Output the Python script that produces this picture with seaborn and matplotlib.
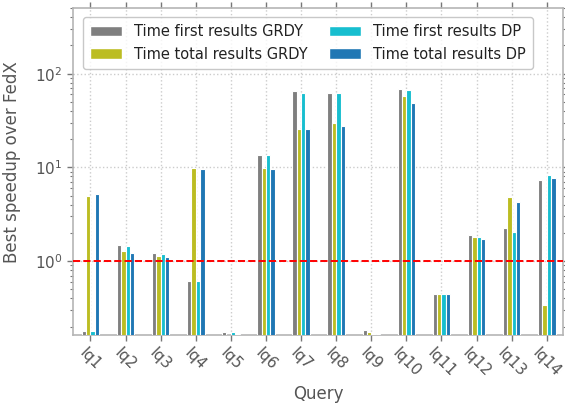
import matplotlib
matplotlib.use("Agg")
import matplotlib.pyplot as plt
import seaborn as sns
import pandas as pd
from matplotlib.patches import Patch
from matplotlib.ticker import LogLocator, NullFormatter

queries = [f"lq{i}" for i in range(1, 15)]
series = ["Time first results GRDY", "Time total results GRDY",
          "Time first results DP", "Time total results DP"]
first_grdy = [0.179, 1.47, 1.21, 0.62, 0.175, 13.5, 64.7, 62.7, 0.184, 69.2, 0.445, 1.88, 2.25, 7.32]
total_grdy = [5.0, 1.28, 1.13, 9.75, 0.15, 9.75, 25.9, 29.5, 0.175, 57.3, 0.445, 1.79, 4.78, 0.339]
first_dp = [0.179, 1.45, 1.18, 0.62, 0.175, 13.5, 62.7, 62.7, 0.168, 66.3, 0.45, 1.80, 2.06, 8.28]
total_dp = [5.15, 1.23, 1.11, 9.6, 0.168, 9.6, 25.9, 27.9, 0.166, 49.0, 0.45, 1.73, 4.26, 7.76]
colors = ["#7f7f7f", "#bcbd22", "#17becf", "#1f77b4"]

rows = []
for name, vals in zip(series, [first_grdy, total_grdy, first_dp, total_dp]):
    for q, v in zip(queries, vals):
        rows.append({"Query": q, "Series": name, "Speedup": v})
df = pd.DataFrame(rows)

sns.set_theme(style="white")
plt.rcParams['font.family'] = ['DejaVu Sans']
text_color = "#555555"
spine_color = "#b5b5b5"

fig = plt.figure(figsize=(5.65, 4.08), dpi=100)
ax = fig.add_axes([0.129, 0.179, 0.868, 0.801])

sns.barplot(data=df, x="Query", y="Speedup", hue="Series", hue_order=series,
            palette=colors, saturation=1, width=0.5, edgecolor="white",
            linewidth=0.8, ax=ax, legend=False, zorder=3)
ax.set_yscale("log")
ax.set_ylim(0.163, 500)
ax.set_xlim(-0.5, 13.47)

ax.axhline(1.0, color="red", ls="--", lw=1.4, zorder=5)

ax.yaxis.set_major_locator(LogLocator(base=10, numticks=10))
ax.yaxis.set_minor_locator(LogLocator(base=10, subs=range(2, 10), numticks=10))
ax.yaxis.set_minor_formatter(NullFormatter())

ax.grid(True, which="major", ls=":", color="#cccccc", lw=1, zorder=0)
ax.set_axisbelow(True)

for sp in ax.spines.values():
    sp.set_color(spine_color)
    sp.set_linewidth(1.2)

ax.tick_params(axis="both", which="major", direction="out", length=4, width=1,
               color="#777777", labelcolor=text_color, labelsize=11,
               top=True, right=True, bottom=True, left=True)
ax.tick_params(axis="y", which="minor", direction="out", length=2, width=0.8,
               color="#777777", left=True, right=True)
plt.setp(ax.get_xticklabels(), rotation=-45, ha="center")

ax.set_xlabel("Query", fontsize=12, color=text_color)
ax.set_ylabel("Best speedup over FedX", fontsize=12, color=text_color)
ax.yaxis.set_label_coords(-0.105, 0.53)

handles = [Patch(facecolor=c, edgecolor="white", label=s) for c, s in zip(colors, series)]
leg = ax.legend(handles=handles, ncol=2, loc="upper left", fontsize=10.5,
                frameon=True, fancybox=True, edgecolor="#bbbbbb",
                bbox_to_anchor=(0.005, 0.995), columnspacing=1.5,
                handlelength=2.2, borderpad=0.5)
for t in leg.get_texts():
    t.set_color("#222222")

fig.savefig("out.png", dpi=100)
